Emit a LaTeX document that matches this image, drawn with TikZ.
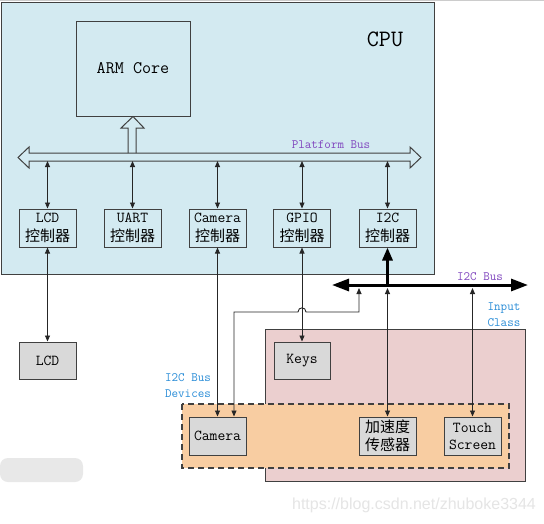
\documentclass[tikz,border=0pt]{standalone}
\usepackage{fontspec}
\newfontfamily\cjk{Noto Sans CJK SC}
\newfontfamily\wmfont{Liberation Sans}
\usetikzlibrary{arrows.meta}
\definecolor{cpublue}{RGB}{211,234,241}
\definecolor{pinkbg}{RGB}{235,207,207}
\definecolor{orangebg}{RGB}{248,205,162}
\definecolor{devgray}{RGB}{217,217,217}
\definecolor{boxline}{RGB}{64,64,64}
\definecolor{purplet}{RGB}{128,70,190}
\definecolor{bluet}{RGB}{40,140,215}
\newcommand{\zh}[1]{{\cjk\fontsize{15}{19}\selectfont #1}}
\tikzset{
  box/.style={draw=boxline, line width=1pt, inner sep=0pt, align=center,
    font=\ttfamily\fontsize{15.2}{19}\selectfont},
  ctrl/.style={box, minimum width=57pt, minimum height=38pt},
  dev/.style={box, fill=devgray, minimum width=57pt, minimum height=38pt},
  conn/.style={line width=0.9pt, draw=black!85,
    {Triangle[length=6pt,width=5pt]}-{Triangle[length=6pt,width=5pt]}},
  hollow/.style={draw=boxline, line width=1pt},
  lbl/.style={font=\ttfamily\fontsize{12.7}{16}\selectfont, inner sep=0pt, align=center},
}
\begin{document}
\begin{tikzpicture}[x=1pt,y=-1pt]
\useasboundingbox (0,0) rectangle (544,523);
\fill[white] (0,0) rectangle (544,523);
\draw[gray!40, line width=0.8pt] (0,0.5) -- (544,0.5);
% regions
\draw[boxline, line width=1pt, fill=cpublue] (1.5,2) rectangle (434,274);
\draw[boxline, line width=1pt, fill=pinkbg] (265,329) rectangle (525,481);
\draw[boxline, line width=1.1pt, fill=orangebg, dash pattern=on 6pt off 4pt] (182,404) rectangle (509,468);
% watermark blob
\fill[gray!18, rounded corners=8pt] (0,458) rectangle (83,482);
\node[text=gray!20, font=\wmfont\fontsize{16}{20}\selectfont, inner sep=0pt] (wm) at (414,505) {https://blog.csdn.net/zhuboke3344};
% labels
\node[font=\ttfamily\fontsize{23.5}{26}\selectfont, inner sep=0pt] (cpu) at (385,39) {CPU};
\node[lbl, text=purplet] (pbl) at (331,145) {Platform Bus};
\node[lbl, text=purplet] (i2cbl) at (480,277) {I2C Bus};
\node[lbl, text=bluet] (icl) at (504,315) {Input\\Class};
\node[lbl, text=bluet] (dvl) at (188,386) {I2C Bus\\Devices};
% ARM core
\node[box, minimum width=114pt, minimum height=95pt, font=\ttfamily\fontsize{17.6}{20}\selectfont] (arm) at (133,68.5) {ARM Core};
% hollow arrows
\draw[hollow] (18,157.5) -- (29,147) -- (29,153) -- (410,153) -- (410,147) -- (421,157.5) -- (410,168) -- (410,161) -- (29,161) -- (29,168) -- cycle;
\draw[hollow] (128,153) -- (128,128) -- (121,128) -- (arm.south) -- (144,128) -- (136,128) -- (136,153);
\coordinate (pbus) at (0,161);
% controllers
\node[ctrl] (lcdc) at (47.5,228) {LCD\\\zh{控制器}};
\node[ctrl] (uartc) at (132.5,228) {UART\\\zh{控制器}};
\node[ctrl] (camc) at (217.5,228) {Camera\\\zh{控制器}};
\node[ctrl] (gpioc) at (302,228) {GPIO\\\zh{控制器}};
\node[ctrl] (i2cc) at (387.5,228) {I2C\\\zh{控制器}};
\foreach \n in {lcdc,uartc,camc,gpioc,i2cc}
  \draw[conn] (\n.north |- pbus) -- (\n.north);
% devices
\node[dev, minimum height=37pt] (lcd) at (47.5,360.5) {LCD};
\node[dev, minimum width=56pt, minimum height=37pt] (keys) at (302,360.5) {Keys};
\node[dev] (camd) at (217.5,436) {Camera};
\node[dev] (acc) at (387.5,436) {\zh{加速度}\\[-1pt]\zh{传感器}};
\node[dev] (touch) at (472.5,436) {Touch\\[-2pt]Screen};
% I2C bus
\coordinate (busL) at (332,285);
\coordinate (busR) at (528,285);
\coordinate (busA) at (359,288);
\coordinate (bend2) at (359,312);
\coordinate (hopR) at (306,312);
\coordinate (hopL) at (298,312);
\coordinate (bend1) at (234,312);
\draw[line width=3pt, {Triangle[length=17pt,width=12pt]}-{Triangle[length=17pt,width=12pt]}] (busL) -- (busR);
\draw[line width=3pt, {Triangle[length=13pt,width=10pt]}-] (i2cc.south) -- (i2cc.south |- busL);
% connections
\draw[conn] (lcdc.south) -- (lcd.north);
\draw[conn] (camc.south) -- (camd.north -| camc.south);
\draw[conn] (gpioc.south) -- (keys.north);
\draw[conn] (acc.north |- busA) -- (acc.north);
\draw[conn] (touch.north |- busA) -- (touch.north);
\draw[conn] (busA) -- (bend2) -- (hopR) .. controls (306,306.5) and (298,306.5) .. (hopL) -- (bend1) -- (bend1 |- camd.north);
\end{tikzpicture}
\end{document}
